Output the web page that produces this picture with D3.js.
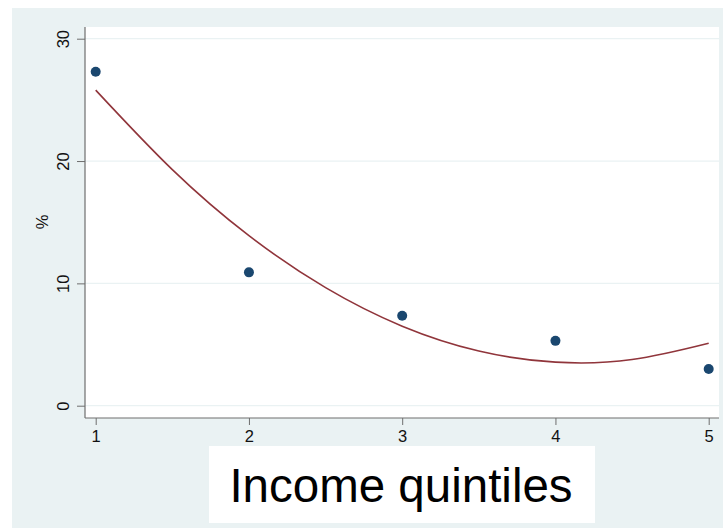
<!DOCTYPE html>
<html>
<head>
<meta charset="utf-8">
<script src="https://cdn.jsdelivr.net/npm/d3@7"></script>
<style>
  html, body { margin: 0; padding: 0; background: #ffffff; }
  svg { display: block; }
  text { font-family: "Liberation Sans", Arial, Helvetica, sans-serif; }
</style>
</head>
<body>
<svg id="chart" width="723" height="528"></svg>
<script>
// Data
const quintiles = [1, 2, 3, 4, 5];
const shares = [27.3, 10.9, 7.35, 5.3, 3.0];
// Fitted curve
const fitX = [1, 1.5, 2, 2.5, 3, 3.5, 4, 4.5, 5];
const fitY = [25.8, 19.3, 13.9, 9.65, 6.5, 4.47, 3.56, 3.77, 5.1];
const yTicks = [0, 10, 20, 30];
const xTicks = [1, 2, 3, 4, 5];
const xTitle = "Income quintiles";
const yTitle = "%";

const svg = d3.select("#chart");
const W = 723, H = 528;

// graph region
svg.append("rect").attr("x", 12).attr("y", 8).attr("width", W - 12).attr("height", H - 8)
  .attr("fill", "#eaf2f3");

// plot region
const plotL = 85, plotT = 27, plotR = 719, plotB = 418;
svg.append("rect").attr("x", plotL).attr("y", plotT).attr("width", plotR - plotL).attr("height", plotB - plotT)
  .attr("fill", "#ffffff");

const x = d3.scaleLinear().domain([1, 5]).range([95.7, 708.7]);
const y = d3.scaleLinear().domain([0, 30]).range([405.7, 38.7]);

// gridlines
svg.append("g").selectAll("line").data(yTicks).join("line")
  .attr("x1", plotL).attr("x2", plotR)
  .attr("y1", d => y(d)).attr("y2", d => y(d))
  .attr("stroke", "#eaf2f3").attr("stroke-width", 1.2);

// y axis
const yAxis = svg.append("g").attr("transform", `translate(${plotL},0)`)
  .call(d3.axisLeft(y).tickValues(yTicks).tickSize(8).tickPadding(7).tickSizeOuter(0));
yAxis.select(".domain").attr("d", `M0,${plotT}V${plotB}`).attr("stroke", "#6e6e6e").attr("stroke-width", 1.2);
yAxis.selectAll(".tick line").attr("stroke", "#6e6e6e");
yAxis.selectAll(".tick text")
  .attr("font-size", 16.5).attr("fill", "#111")
  .attr("text-anchor", "middle")
  .attr("transform", "translate(-22,0) rotate(-90)")
  .attr("x", 0).attr("dy", "0.35em");

// x axis
const xAxis = svg.append("g").attr("transform", `translate(0,${plotB})`)
  .call(d3.axisBottom(x).tickValues(xTicks).tickFormat(d3.format("d")).tickSize(7).tickPadding(5).tickSizeOuter(0));
xAxis.select(".domain").attr("d", `M${plotL},0H${plotR}`).attr("stroke", "#6e6e6e").attr("stroke-width", 1.2);
xAxis.selectAll(".tick line").attr("stroke", "#6e6e6e");
xAxis.selectAll(".tick text").attr("font-size", 16.5).attr("fill", "#111");

// fit line
const fitData = fitX.map((v, i) => [v, fitY[i]]);
svg.append("path").datum(fitData)
  .attr("d", d3.line().x(d => x(d[0])).y(d => y(d[1])).curve(d3.curveNatural))
  .attr("fill", "none").attr("stroke", "#90353b").attr("stroke-width", 1.6);

// points
svg.append("g").selectAll("circle").data(quintiles).join("circle")
  .attr("cx", d => x(d)).attr("cy", (d, i) => y(shares[i])).attr("r", 5)
  .attr("fill", "#1a476f");

// y title
svg.append("text").attr("transform", "translate(48,222) rotate(-90)")
  .attr("text-anchor", "middle").attr("font-size", 16.5).attr("fill", "#111").text(yTitle);

// x title box
svg.append("rect").attr("x", 209).attr("y", 446).attr("width", 386).attr("height", 77).attr("fill", "#ffffff");
svg.append("text").attr("x", 401).attr("y", 502).attr("text-anchor", "middle")
  .attr("font-size", 47.5).attr("fill", "#000").text(xTitle);
</script>
</body>
</html>
